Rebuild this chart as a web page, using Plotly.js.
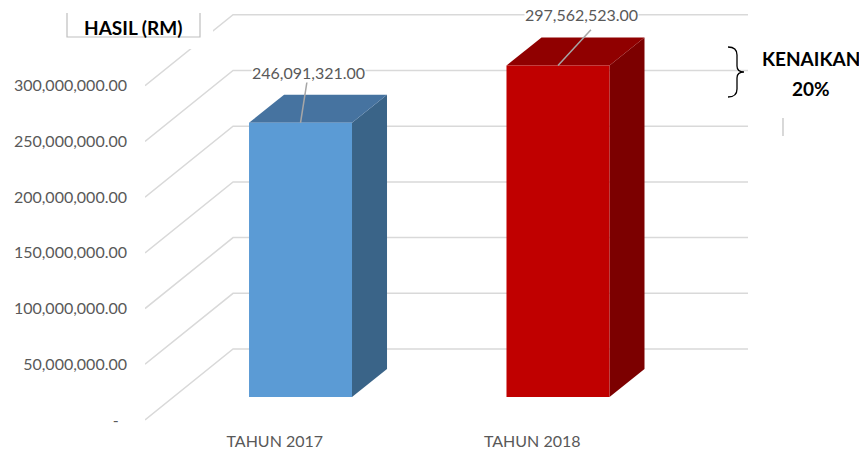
<!DOCTYPE html>
<html>
<head>
<meta charset="utf-8">
<script src="https://cdn.plot.ly/plotly-3.0.1.min.js"></script>
<style>html,body{margin:0;padding:0;background:#fff;}#chart{width:859px;height:453px;}</style>
</head>
<body>
<div id="chart"></div>
<script>
// ---- data ----
const categories = ["TAHUN 2017", "TAHUN 2018"];
const values = [246091321.00, 297562523.00];
const valueLabels = ["246,091,321.00", "297,562,523.00"];
const yTickVals = [0, 50000000, 100000000, 150000000, 200000000, 250000000, 300000000];
const yTickText = ["-\u00A0\u00A0", "50,000,000.00", "100,000,000.00", "150,000,000.00",
                   "200,000,000.00", "250,000,000.00", "300,000,000.00"];

// ---- styling / geometry (3D look) ----
const frontColors = ["#5B9BD5", "#C00000"];
const topColors   = ["#4673A0", "#900000"];
const sideColors  = ["#3A6488", "#7C0000"];
const X0 = -0.604, X1 = 1.738;          // x range (front-left edge, right end of gridlines)
const Y0 = -8.98e6, Y1 = 368.0e6;       // y range (front-plane value units)
const BASE = 20.65e6;                   // bar base height on the front plane
const HALF = 0.2;                       // bar half width
const DX = 0.136, DY = 25.1e6;          // bar depth offset
const WALL_X = -0.262, WALL_DY = 63.7e6; // back wall offset
const labelDX = [0.03, 0.09], labelDY = [45.5e6, 45.5e6];
const leadEndDX = [0.025, 0.128], leadEndDY = [36.7e6, 32.0e6];
const FONT = "Lato, 'Open Sans', sans-serif";
const GRID = "#D9D9D9";

const traces = [];
// gridlines: front-left diagonal then along back wall
yTickVals.forEach(function (t) {
  traces.push({
    type: "scatter", mode: "lines", hoverinfo: "skip", showlegend: false,
    x: [X0, WALL_X, X1], y: [t, t + WALL_DY, t + WALL_DY],
    line: {color: GRID, width: 1.5}
  });
});
// bars
values.forEach(function (v, i) {
  const xl = i - HALF, xr = i + HALF, yb = BASE, yt = BASE + v;
  // side face
  traces.push({type: "scatter", mode: "lines", fill: "toself", hoverinfo: "skip", showlegend: false,
    x: [xr, xr + DX, xr + DX, xr, xr], y: [yb, yb + DY, yt + DY, yt, yb],
    line: {width: 0, color: sideColors[i]}, fillcolor: sideColors[i]});
  // top face
  traces.push({type: "scatter", mode: "lines", fill: "toself", hoverinfo: "skip", showlegend: false,
    x: [xl, xl + DX, xr + DX, xr, xl], y: [yt, yt + DY, yt + DY, yt, yt],
    line: {width: 0, color: topColors[i]}, fillcolor: topColors[i]});
  // front face
  traces.push({type: "scatter", mode: "lines", fill: "toself", hoverinfo: "skip", showlegend: false,
    x: [xl, xr, xr, xl, xl], y: [yb, yb, yt, yt, yb],
    line: {width: 0, color: frontColors[i]}, fillcolor: frontColors[i]});
  // leader line
  traces.push({type: "scatter", mode: "lines", hoverinfo: "skip", showlegend: false,
    x: [i, i + leadEndDX[i]], y: [yt, yt + leadEndDY[i]],
    line: {color: "#A6A6A6", width: 1.5}});
});

const annotations = values.map(function (v, i) {
  return {x: i + labelDX[i], y: BASE + v + labelDY[i], xref: "x", yref: "y",
    text: valueLabels[i], showarrow: false, xanchor: "center", yanchor: "middle",
    bgcolor: "#ffffff", borderpad: 0,
    font: {family: FONT, size: 16, color: "#595959"}};
});

// pixel -> paper helpers for decorations
const L = 145, R = 111, T = 10, B = 23, W = 859, H = 453;
const pw = W - L - R, ph = H - T - B;
function px(x) { return (x - L) / pw; }
function py(y) { return (H - B - y) / ph; }

annotations.push({xref: "paper", yref: "paper", x: px(133), y: py(28), text: "<b>HASIL (RM)</b>",
  showarrow: false, xanchor: "center", yanchor: "middle",
  font: {family: FONT, size: 19, color: "#000000"}});
annotations.push({xref: "paper", yref: "paper", x: px(811), y: py(58), text: "<b>KENAIKAN</b>",
  showarrow: false, xanchor: "center", yanchor: "middle",
  font: {family: FONT, size: 19, color: "#000000"}});
annotations.push({xref: "paper", yref: "paper", x: px(811), y: py(88), text: "<b>20%</b>",
  showarrow: false, xanchor: "center", yanchor: "middle",
  font: {family: FONT, size: 19, color: "#000000"}});

function P(x, y) { return px(x) + "," + py(y); }
const shapes = [
  {type: "rect", xref: "paper", yref: "paper", x0: px(67), x1: px(213), y0: py(13), y1: py(49),
   fillcolor: "#ffffff", line: {width: 0}, layer: "above"},
  {type: "path", xref: "paper", yref: "paper", layer: "above",
   path: "M" + P(67, 13) + " L" + P(67, 37) + " L" + P(200, 37) + " L" + P(200, 13),
   line: {color: "#BFBFBF", width: 1.2}},
  {type: "path", xref: "paper", yref: "paper", layer: "above",
   path: "M" + P(728, 47) + " Q" + P(737, 47) + " " + P(737, 55) + " L" + P(737, 66) +
         " Q" + P(737, 72) + " " + P(744, 72) + " Q" + P(737, 72) + " " + P(737, 78) +
         " L" + P(737, 89) + " Q" + P(737, 97) + " " + P(728, 97),
   line: {color: "#000000", width: 1.3}},
  {type: "line", xref: "paper", yref: "paper", x0: px(783), x1: px(783), y0: py(118), y1: py(136),
   line: {color: "#BFBFBF", width: 1.2}}
];

const layout = {
  width: W, height: H,
  margin: {l: L, r: R, t: T, b: B, pad: 0},
  paper_bgcolor: "#ffffff", plot_bgcolor: "rgba(0,0,0,0)",
  showlegend: false,
  xaxis: {range: [X0, X1], showgrid: false, zeroline: false, showline: false, ticks: "",
    tickvals: categories.map(function (c, i) { return i - 0.1; }), ticktext: categories,
    tickfont: {family: FONT, size: 16, color: "#595959"}, fixedrange: true},
  yaxis: {range: [Y0, Y1], showgrid: false, zeroline: false, showline: false, ticks: "",
    tickvals: yTickVals, ticktext: yTickText, ticklabelstandoff: 17,
    tickfont: {family: FONT, size: 16, color: "#595959"}, fixedrange: true},
  annotations: annotations,
  shapes: shapes
};

Plotly.newPlot("chart", traces, layout, {staticPlot: true, displayModeBar: false});
</script>
</body>
</html>
